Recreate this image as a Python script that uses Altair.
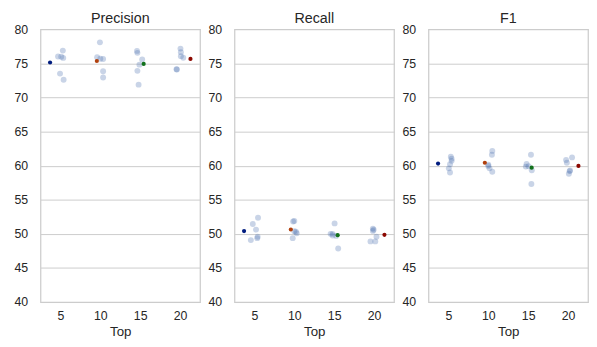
import altair as alt
import pandas as pd

tops = ["5", "10", "15", "20"]
metrics = ["Precision", "Recall", "F1"]

# per-run scores (one list per Top value)
precision_values = [
    [76.0, 76.87, 75.96, 75.8, 73.5, 72.6],
    [78.08, 75.9, 75.67, 75.63, 73.84, 72.93],
    [76.83, 76.54, 75.57, 74.81, 73.9, 71.88],
    [77.16, 76.64, 76.06, 75.82, 74.13, 74.1],
]
recall_values = [
    [51.44, 52.35, 50.62, 49.08, 49.57, 49.37],
    [51.82, 51.88, 50.38, 50.09, 49.37, 50.3],
    [51.53, 50.0, 49.75, 49.7, 47.84, 50.0],
    [50.77, 50.43, 49.57, 48.89, 48.89, 50.6],
]
f1_values = [
    [61.3, 61.0, 60.7, 60.2, 59.6, 59.0],
    [62.16, 61.6, 60.14, 59.96, 59.6, 59.1],
    [61.59, 60.25, 59.86, 59.33, 57.32, 59.9],
    [61.21, 60.82, 60.43, 59.28, 58.8, 59.2],
]

# horizontal strip jitter (fraction of a category slot)
precision_jitter = [
    [-0.06, 0.06, 0.02, 0.07, -0.01, 0.08],
    [-0.01, -0.08, 0.0, 0.07, 0.07, 0.07],
    [-0.08, -0.07, 0.05, -0.02, -0.07, -0.04],
    [0.01, 0.02, 0.02, 0.08, -0.09, -0.08],
]
recall_jitter = [
    [-0.04, 0.09, 0.04, -0.09, 0.08, 0.07],
    [-0.03, 0.0, 0.0, 0.06, -0.04, 0.04],
    [0.01, -0.09, -0.04, 0.05, 0.1, -0.04],
    [-0.03, -0.03, 0.06, -0.09, 0.03, -0.01],
]
f1_jitter = [
    [0.06, 0.08, 0.08, 0.04, 0.01, 0.04],
    [0.1, 0.09, 0.0, 0.0, 0.03, 0.1],
    [0.07, -0.04, -0.06, 0.09, 0.08, 0.01],
    [0.1, -0.05, -0.03, 0.05, 0.02, 0.04],
]

dodge = [-0.26, -0.087, 0.087, 0.26]
mean_colors = ["#001c7f", "#b1400d", "#12711c", "#8c0800"]

rows = []
for m, vals, jits in zip(
    metrics,
    [precision_values, recall_values, f1_values],
    [precision_jitter, recall_jitter, f1_jitter],
):
    for i, (vs, js) in enumerate(zip(vals, jits)):
        for v, j in zip(vs, js):
            rows.append({"metric": m, "top": tops[i], "idx": i, "value": v, "jitter": j})
df = pd.DataFrame(rows)

FONT = "Liberation Sans"
TXT = "#262626"
W, H = 162, 277
label_expr = "[" + ",".join(f"'{t}'" for t in tops) + "][datum.value]"
dodge_expr = "[" + ",".join(str(d) for d in dodge) + "][datum.idx]"

x_scale = alt.Scale(domain=[-0.5, 3.5], nice=False, zero=False)
y_scale = alt.Scale(domain=[40, 80], nice=False, zero=False)


def panel(m):
    x_axis = alt.Axis(
        values=[0, 1, 2, 3], labelExpr=label_expr, grid=False, ticks=False,
        domain=False, title="Top", labelPadding=8, titlePadding=3,
    )
    y_axis = alt.Axis(
        values=[40, 45, 50, 55, 60, 65, 70, 75, 80], grid=True, ticks=False,
        domain=False, title=None, labelPadding=13, minExtent=26, maxExtent=26,
    )
    base = alt.Chart(df).transform_filter(alt.datum.metric == m)
    strip = base.transform_calculate(xpos="datum.idx + datum.jitter").mark_circle(
        size=36, color="#4c72b0", opacity=0.3
    ).encode(
        x=alt.X("xpos:Q", scale=x_scale, axis=x_axis),
        y=alt.Y("value:Q", scale=y_scale, axis=y_axis),
    )
    means = base.transform_aggregate(
        mean="mean(value)", groupby=["idx", "top"]
    ).transform_calculate(xpos="datum.idx + " + dodge_expr).mark_circle(
        size=18, opacity=1
    ).encode(
        x=alt.X("xpos:Q", scale=x_scale, axis=x_axis),
        y=alt.Y("mean:Q", scale=y_scale, axis=y_axis),
        color=alt.Color(
            "top:N", sort=tops,
            scale=alt.Scale(domain=tops, range=mean_colors), legend=None,
        ),
    )
    title = alt.Chart(pd.DataFrame({"t": [m]})).mark_text(
        font=FONT, fontSize=14.5, color=TXT, align="center", baseline="alphabetic"
    ).encode(text="t:N", x=alt.value(W / 2), y=alt.value(-6))
    return alt.layer(strip, means, title).properties(width=W, height=H)


chart = alt.hconcat(*[panel(m) for m in metrics], spacing=6).properties(
    padding={"left": 5, "top": 0, "right": 0, "bottom": 0}
).configure_view(
    stroke="#cccccc", strokeWidth=1.25
).configure_axis(
    labelFont=FONT, titleFont=FONT, labelFontSize=12.5, titleFontSize=13.5,
    labelColor=TXT, titleColor=TXT, titleFontWeight="normal",
    gridColor="#cccccc", gridWidth=1,
)

chart.save("out.html", embed_options={"renderer": "svg", "actions": False})
